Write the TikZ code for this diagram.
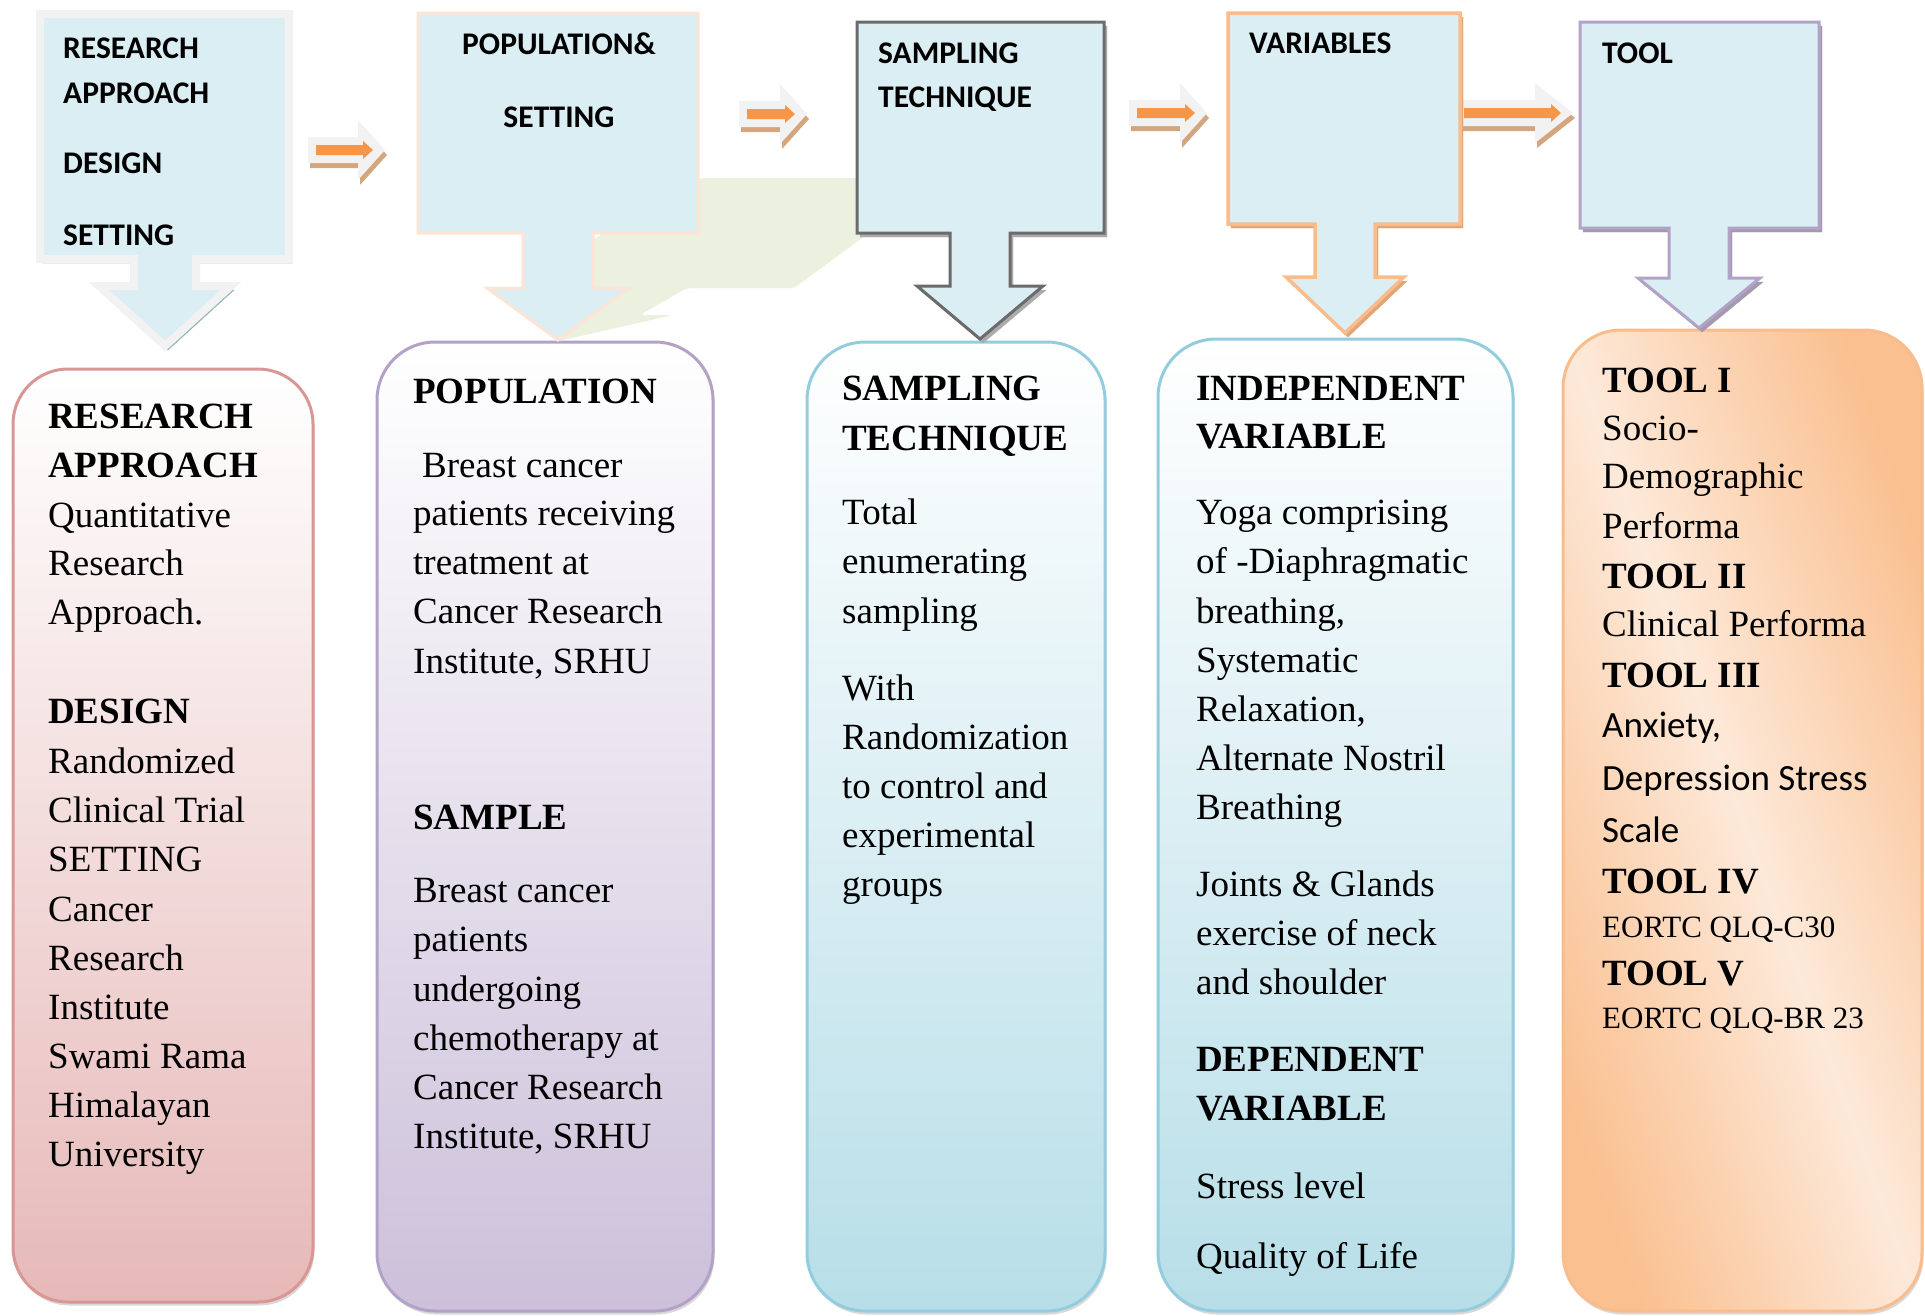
\documentclass[tikz,border=0pt]{standalone}
\usepackage{fontspec}
\setmainfont{Liberation Serif}
\newfontfamily\calibri{Carlito}
\usetikzlibrary{shadows}

\definecolor{calloutfill}{HTML}{DAEEF3}
\definecolor{greenbg}{HTML}{EBF1DE}
\definecolor{arroworange}{HTML}{F79646}
\definecolor{arrowtan}{HTML}{D5A67E}
\definecolor{arrowwhite}{HTML}{F2F2F2}
\definecolor{redline}{HTML}{D99694}
\definecolor{redfill}{HTML}{E6B9B8}
\definecolor{purpleline}{HTML}{B3A2C7}
\definecolor{purplefill}{HTML}{CCC0DA}
\definecolor{aqualine}{HTML}{93CDDD}
\definecolor{aquafill}{HTML}{B7DEE8}
\definecolor{orangeline}{HTML}{F9BC8C}
\definecolor{orangedark}{HTML}{FAC090}
\definecolor{orangelight}{HTML}{FDE9D9}
\definecolor{peachline}{HTML}{FCE4D6}
\definecolor{greyline}{HTML}{6B6B6B}
\definecolor{shadowblue}{HTML}{93B1BB}
\definecolor{shadowgrey}{HTML}{ABABAB}
\definecolor{shadoworange}{HTML}{E2A573}
\definecolor{shadowpurple}{HTML}{A39AB0}

\tikzset{
  txt/.style={anchor=base west, inner sep=0pt, font=\fontsize{37}{44}\selectfont},
  ctxt/.style={anchor=base west, inner sep=0pt, font=\calibri\bfseries\fontsize{31.5}{38}\selectfont},
  listbox/.style={rounded corners=58pt, line width=3pt, draw=#1line, top color=white, bottom color=#1fill,
    drop shadow={shadow xshift=1.5pt, shadow yshift=-3.5pt, opacity=0.3}},
  callout/.style={fill=calloutfill, line width=3pt, draw=#1},
  cshadow/.style={preaction={fill=#1, draw=#1, transform canvas={xshift=3pt, yshift=-4pt}}},
}

% rectangle with a stem and a head pointing down
\newcommand{\calloutshape}[9]{(#1,#2) -- (#3,#2) -- (#3,#4) -- ({#5+#6},#4) -- ({#5+#6},#7)
  -- ({#5+#8},#7) -- (#5,#9) -- ({#5-#8},#7) -- ({#5-#6},#7) -- ({#5-#6},#4) -- (#1,#4) -- cycle}

% block arrow: x start, x end, y centre, head length
\newcommand{\blockarrow}[4]{%
  \fill[arrowtan, xshift=2pt, yshift=-5pt] (#1,{#3-13}) -- ({#2-#4},{#3-13}) -- ({#2-#4},{#3-30}) -- (#2,#3)
    -- ({#2-#4},{#3+30}) -- ({#2-#4},{#3+13}) -- (#1,{#3+13}) -- cycle;
  \fill[arrowwhite] (#1,{#3-13}) -- ({#2-#4},{#3-13}) -- ({#2-#4},{#3-30}) -- (#2,#3)
    -- ({#2-#4},{#3+30}) -- ({#2-#4},{#3+13}) -- (#1,{#3+13}) -- cycle;
  \fill[arroworange] ({#1+8},{#3-5}) -- ({#2-22},{#3-5}) -- ({#2-22},{#3-9}) -- ({#2-12},#3)
    -- ({#2-22},{#3+9}) -- ({#2-22},{#3+5}) -- ({#1+8},{#3+5}) -- cycle;
}

\begin{document}
\begin{tikzpicture}[x=1pt, y=-1pt]
  \useasboundingbox (0,0) rectangle (1925,1315);

  % green shape behind the second callout
  \fill[greenbg, rounded corners=4pt] (700,178) -- (880,178) -- (880,225) -- (794,288) -- (687,288)
    -- (640,315) -- (673,315) -- (559,341) -- (592,240) -- cycle;

  % lower boxes
  \draw[listbox=red, rounded corners=55pt] (13,369) rectangle (313,1302);
  \draw[listbox=purple] (377,342) rectangle (713,1311);
  \draw[listbox=aqua] (807,342) rectangle (1105,1311);
  \draw[listbox=aqua] (1158,339) rectangle (1513,1311);
  \draw[rounded corners=58pt, line width=3pt, draw=orangeline,
    left color=orangedark, right color=orangedark, middle color=orangelight, shading angle=110,
    drop shadow={shadow xshift=1.5pt, shadow yshift=-3.5pt, opacity=0.3}] (1563,330) rectangle (1922,1311);

  % arrows between callouts
  \blockarrow{308}{385}{150}{27}
  \blockarrow{739}{807}{114}{27}
  \blockarrow{1129}{1207}{113}{27}
  \blockarrow{1456}{1573}{113}{38}

  % callouts
  \draw[callout=arrowwhite, line width=8pt, cshadow=shadowblue] \calloutshape{40}{14}{289}{259}{165}{31}{286}{66}{346};
  \draw[callout=peachline] \calloutshape{418}{13}{698}{233}{558}{35}{288}{71}{340};
  \draw[callout=greyline, cshadow=shadowgrey] \calloutshape{857}{22}{1104}{233}{980}{30}{286}{63}{339};
  \draw[callout=orangeline, line width=3.5pt, cshadow=shadoworange] \calloutshape{1228}{13}{1460}{224}{1345}{30}{277}{59}{333};
  \draw[callout=purpleline, cshadow=shadowpurple] \calloutshape{1580}{22}{1819}{228}{1699}{30}{278}{61}{328};

  % callout texts
  \node[ctxt] (c1a) at (63,58) {RESEARCH};
  \node[ctxt] (c1b) at (63,103) {APPROACH};
  \node[ctxt] (c1c) at (63,173) {DESIGN};
  \node[ctxt] (c1d) at (63,245) {SETTING};
  \node[ctxt, anchor=base] (c2a) at (559,54) {POPULATION\&};
  \node[ctxt, anchor=base] (c2b) at (559,127) {SETTING};
  \node[ctxt] (c3a) at (878,63) {SAMPLING};
  \node[ctxt] (c3b) at (878,107) {TECHNIQUE};
  \node[ctxt] (c4a) at (1249,53) {VARIABLES};
  \node[ctxt] (c5a) at (1602,63) {TOOL};

  % box texts
  \foreach \y/\t [count=\i] in {428/{\bfseries RESEARCH}, 477/{\bfseries APPROACH}, 527/Quantitative,
      575/Research, 624/Approach., 723/{\bfseries DESIGN}, 773/Randomized, 822/{Clinical Trial},
      871/SETTING, 921/Cancer, 970/Research, 1019/Institute, 1068/{Swami Rama}, 1117/Himalayan,
      1166/University}
    \node[txt] (ra\i) at (48,\y) {\t};

  \node[txt] (po0) at (422,477) {Breast cancer};
  \foreach \y/\t [count=\i] in {403/{\bfseries POPULATION}, 525/{patients receiving}, 574/{treatment at},
      623/{Cancer Research}, 673/{Institute, SRHU}, 829/{\bfseries SAMPLE}, 902/{Breast cancer},
      951/patients, 1001/undergoing, 1050/{chemotherapy at}, 1099/{Cancer Research}, 1148/{Institute, SRHU}}
    \node[txt] (po\i) at (413,\y) {\t};

  \foreach \y/\t [count=\i] in {400/{\bfseries SAMPLING}, 450/{\bfseries TECHNIQUE}, 524/Total,
      573/enumerating, 623/sampling, 700/With, 749/Randomization, 798/{to control and},
      847/experimental, 896/groups}
    \node[txt] (sa\i) at (842,\y) {\t};

  \foreach \y/\t [count=\i] in {400/{\bfseries INDEPENDENT}, 448/{\bfseries VARIABLE}, 524/{Yoga comprising},
      573/{of -Diaphragmatic}, 623/{breathing,}, 672/Systematic, 721/{Relaxation,}, 770/{Alternate Nostril},
      819/Breathing, 896/{Joints \& Glands}, 945/{exercise of neck}, 994/{and shoulder},
      1071/{\bfseries DEPENDENT}, 1120/{\bfseries VARIABLE}, 1198/{Stress level}, 1268/{Quality of Life}}
    \node[txt] (va\i) at (1196,\y) {\t};

  \foreach \y/\t [count=\i] in {392/{\bfseries TOOL I}, 440/Socio-, 488/Demographic, 538/Performa,
      588/{\bfseries TOOL II}, 636/{Clinical Performa}, 687/{\bfseries TOOL III}, 737/{\calibri Anxiety,},
      790/{\calibri Depression Stress}, 842/{\calibri Scale}, 893/{\bfseries TOOL IV},
      937/{\fontsize{31}{36}\selectfont EORTC QLQ-C30}, 985/{\bfseries TOOL V},
      1028/{\fontsize{31}{36}\selectfont EORTC QLQ-BR 23}}
    \node[txt] (to\i) at (1602,\y) {\t};
\end{tikzpicture}
\end{document}
